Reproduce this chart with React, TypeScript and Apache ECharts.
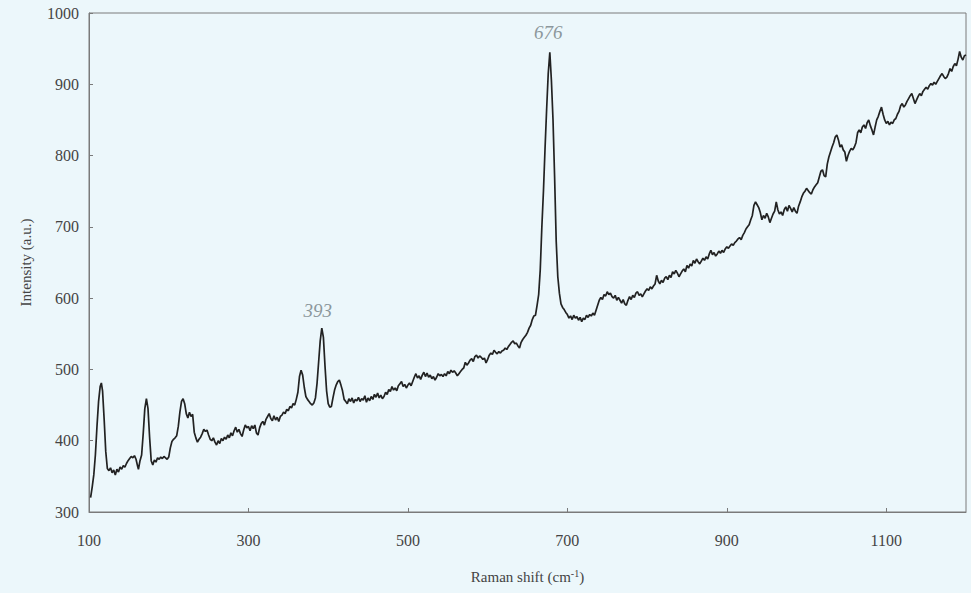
import React, { useEffect, useRef } from "react";
import * as echarts from "echarts";

// Raman spectrum: [Raman shift (cm-1), intensity (a.u.)]
const lowShiftRegion: [number, number][] = [
  [102, 320], [104, 335], [106, 352], [108, 380], [110, 420], [112, 455], [114, 476], [115.5, 481], [117, 470], [119, 430],
  [121, 385], [123, 361], [125, 358], [127, 362], [129, 355], [131, 359], [133, 352], [135, 360], [137, 356], [139, 363],
  [141, 360], [143, 365], [145, 363], [147, 368], [149, 372], [151, 375], [153, 378], [155, 376], [157, 379], [159, 374],
  [161, 364], [162, 360], [164, 372], [166, 380], [168, 410], [170, 445], [172, 459], [174, 445], [176, 405], [178, 372],
  [180, 366], [182, 373], [184, 370], [186, 376], [188, 374], [190, 377], [192, 375], [194, 378], [196, 376], [198, 374],
  [200, 377], [202, 390], [204, 399], [206, 402], [208, 404], [210, 407], [212, 420], [214, 440], [216, 455], [218, 459],
  [220, 452], [222, 438], [224, 432], [226, 440], [228, 434], [230, 437], [232, 412], [234, 404], [236, 398], [238, 402],
  [240, 405], [242, 410], [244, 416], [246, 413], [248, 415], [250, 408], [252, 402], [254, 400], [256, 404], [258, 398],
  [260, 394], [262, 400], [264, 396], [266, 403], [268, 400], [270, 405], [272, 402], [274, 408], [276, 404], [278, 411],
  [280, 407], [282, 414], [284, 419], [286, 412], [288, 416], [290, 410], [292, 406], [294, 415], [296, 422], [298, 418],
];

const midShiftRegion: [number, number][] = [
  [300, 420], [302, 414], [304, 421], [306, 417], [308, 422], [310, 411], [312, 408], [314, 418], [316, 424], [318, 427],
  [320, 422], [322, 430], [324, 434], [326, 438], [328, 431], [330, 428], [332, 435], [334, 429], [336, 433], [338, 427],
  [340, 434], [342, 436], [344, 440], [346, 438], [348, 444], [350, 442], [352, 448], [354, 446], [356, 452], [358, 450],
  [360, 458], [362, 468], [364, 490], [366, 499], [368, 492], [370, 475], [372, 462], [374, 458], [376, 455], [378, 452],
  [380, 450], [382, 453], [384, 460], [386, 480], [388, 510], [390, 540], [392, 558], [394, 545], [396, 505], [398, 470],
  [400, 452], [402, 447], [404, 448], [406, 460], [408, 471], [410, 478], [412, 483], [414, 485], [416, 478], [418, 470],
  [420, 458], [422, 455], [424, 452], [426, 459], [428, 455], [430, 460], [432, 453], [434, 458], [436, 456], [438, 461],
  [440, 455], [442, 459], [444, 457], [446, 463], [448, 454], [450, 460], [452, 456], [454, 462], [456, 458], [458, 465],
  [460, 461], [462, 467], [464, 460], [466, 464], [468, 459], [470, 462], [472, 468], [474, 465], [476, 472], [478, 469],
  [480, 476], [482, 471], [484, 474], [486, 470], [488, 477], [490, 480], [492, 483], [494, 476], [496, 479], [498, 474],
  [500, 478], [502, 481], [504, 477], [506, 483], [508, 489], [510, 494], [512, 488], [514, 491], [516, 486], [518, 492],
  [520, 496], [522, 490], [524, 495], [526, 489], [528, 492], [530, 487], [532, 490], [534, 485], [536, 489], [538, 494],
  [540, 491], [542, 493], [544, 490], [546, 494], [548, 491], [550, 497], [552, 494], [554, 499], [556, 496], [558, 498],
  [560, 495], [562, 491], [564, 494], [566, 497], [568, 500], [570, 502], [572, 510], [574, 506], [576, 509], [578, 513],
  [580, 515], [582, 511], [584, 518], [586, 520], [588, 516], [590, 519], [592, 517], [594, 514], [596, 516], [598, 509],
];

const peakRegion: [number, number][] = [
  [600, 514], [602, 520], [604, 523], [606, 521], [608, 527], [610, 524], [612, 522], [614, 525], [616, 523], [618, 526],
  [620, 527], [622, 530], [624, 528], [626, 532], [628, 535], [630, 538], [632, 540], [634, 536], [636, 537], [638, 533],
  [640, 530], [642, 538], [644, 542], [646, 545], [648, 548], [650, 552], [652, 558], [654, 562], [656, 570], [658, 575],
  [660, 576], [662, 590], [664, 605], [666, 640], [668, 700], [670, 750], [672, 810], [674, 865], [676, 915], [678, 945],
  [680, 905], [682, 850], [684, 770], [686, 680], [688, 630], [690, 607], [692, 592], [694, 587], [696, 584], [698, 580],
  [700, 577], [702, 572], [704, 575], [706, 570], [708, 576], [710, 572], [712, 574], [714, 569], [716, 573], [718, 567],
  [720, 572], [722, 570], [724, 576], [726, 573], [728, 577], [730, 575], [732, 579], [734, 576], [736, 583], [738, 590],
  [740, 597], [742, 601], [744, 598], [746, 605], [748, 603], [750, 609], [752, 605], [754, 607], [756, 602], [758, 600],
  [760, 604], [762, 597], [764, 601], [766, 597], [768, 593], [770, 598], [772, 592], [774, 590], [776, 597], [778, 602],
  [780, 598], [782, 604], [784, 601], [786, 607], [788, 609], [790, 604], [792, 606], [794, 602], [796, 606], [798, 610],
  [800, 613], [802, 611], [804, 616], [806, 613], [808, 617], [810, 620], [812, 632], [814, 624], [816, 620], [818, 625],
  [820, 622], [822, 628], [824, 630], [826, 626], [828, 632], [830, 629], [832, 637], [834, 634], [836, 639], [838, 635],
  [840, 630], [842, 634], [844, 638], [846, 641], [848, 637], [850, 646], [852, 642], [854, 648], [856, 645], [858, 653],
  [860, 649], [862, 655], [864, 651], [866, 648], [868, 652], [870, 656], [872, 653], [874, 658], [876, 655], [878, 662],
  [880, 667], [882, 661], [884, 664], [886, 659], [888, 662], [890, 666], [892, 663], [894, 667], [896, 664], [898, 669],
];

const highShiftRegion: [number, number][] = [
  [900, 672], [902, 670], [904, 673], [906, 676], [908, 674], [910, 678], [912, 680], [914, 683], [916, 685], [918, 682],
  [920, 688], [922, 692], [924, 697], [926, 700], [928, 703], [930, 710], [932, 716], [934, 730], [936, 735], [938, 731],
  [940, 727], [942, 720], [944, 710], [946, 716], [948, 712], [950, 719], [952, 714], [954, 706], [956, 712], [958, 718],
  [960, 722], [962, 735], [964, 724], [966, 718], [968, 721], [970, 716], [972, 724], [974, 728], [976, 722], [978, 730],
  [980, 726], [982, 721], [984, 727], [986, 722], [988, 719], [990, 729], [992, 735], [994, 742], [996, 747], [998, 750],
  [1000, 754], [1002, 751], [1004, 748], [1006, 746], [1008, 752], [1010, 756], [1012, 759], [1014, 762], [1016, 770], [1018, 778],
  [1020, 780], [1022, 772], [1024, 770], [1026, 788], [1028, 798], [1030, 805], [1032, 812], [1034, 818], [1036, 826], [1038, 829],
  [1040, 822], [1042, 812], [1044, 815], [1046, 808], [1048, 805], [1050, 792], [1052, 800], [1054, 806], [1056, 810], [1058, 808],
  [1060, 812], [1062, 818], [1064, 832], [1066, 836], [1068, 832], [1070, 840], [1072, 843], [1074, 838], [1076, 846], [1078, 850],
  [1080, 842], [1082, 836], [1084, 829], [1086, 840], [1088, 850], [1090, 855], [1092, 862], [1094, 868], [1096, 858], [1098, 850],
  [1100, 845], [1102, 848], [1104, 843], [1106, 847], [1108, 845], [1110, 850], [1112, 852], [1114, 858], [1116, 862], [1118, 870],
  [1120, 873], [1122, 868], [1124, 871], [1126, 876], [1128, 880], [1130, 884], [1132, 887], [1134, 880], [1136, 873], [1138, 878],
  [1140, 883], [1142, 887], [1144, 884], [1146, 890], [1148, 893], [1150, 896], [1152, 893], [1154, 898], [1156, 901], [1158, 899],
  [1160, 903], [1162, 900], [1164, 904], [1166, 908], [1168, 912], [1170, 915], [1172, 911], [1174, 908], [1176, 910], [1178, 915],
  [1180, 922], [1182, 918], [1184, 925], [1186, 929], [1188, 926], [1190, 935], [1192, 946], [1194, 938], [1196, 934], [1198, 940],
  [1200, 941],
];

// Handwritten peak annotations: [label, shift, intensity position]
const annotations: [string, number, number][] = [
  ["676", 676, 973],
  ["393", 387, 583],
];

const xTicks = { min: 100, max: 1200, interval: 200 };
const yTicks = { min: 300, max: 1000, interval: 100 };

const BG = "#ecf7fb";
const TEXT = "#444444";
const FONT = "'Liberation Serif', 'DejaVu Serif', serif";

export default function App() {
  const ref = useRef<HTMLDivElement>(null);

  useEffect(() => {
    document.body.style.margin = "0";
    document.body.style.background = BG;
    if (!ref.current) return;
    const chart = echarts.init(ref.current, undefined, { renderer: "svg" });
    const data = [...lowShiftRegion, ...midShiftRegion, ...peakRegion, ...highShiftRegion];
    chart.setOption({
      animation: false,
      backgroundColor: BG,
      textStyle: { fontFamily: FONT },
      grid: {
        left: 89,
        top: 13,
        right: 5,
        bottom: 81,
        show: true,
        borderColor: "#7a7a7a",
        borderWidth: 1,
        backgroundColor: "transparent",
      },
      xAxis: {
        type: "value",
        min: xTicks.min,
        max: xTicks.max,
        interval: xTicks.interval,
        name: "Raman shift (cm{sup|-1})",
        nameLocation: "middle",
        nameGap: 56,
        nameTextStyle: {
          color: TEXT,
          fontSize: 15,
          fontFamily: FONT,
          rich: { sup: { fontSize: 10, verticalAlign: "top", padding: [0, 0, 8, 0], color: TEXT, fontFamily: FONT } },
        },
        axisLine: { show: true, lineStyle: { color: "#7a7a7a", width: 1 } },
        axisTick: { show: true, inside: true, length: 4, lineStyle: { color: "#7a7a7a" } },
        axisLabel: {
          color: TEXT,
          fontSize: 16,
          fontFamily: FONT,
          margin: 20,
          showMaxLabel: false,
          formatter: (v: number) => (v === xTicks.max ? "" : String(v)),
        },
        splitLine: { show: false },
      },
      yAxis: {
        type: "value",
        min: yTicks.min,
        max: yTicks.max,
        interval: yTicks.interval,
        name: "Intensity (a.u.)",
        nameLocation: "middle",
        nameGap: 56,
        nameTextStyle: { color: TEXT, fontSize: 15, fontFamily: FONT },
        axisLine: { show: true, lineStyle: { color: "#7a7a7a", width: 1 } },
        axisTick: { show: true, inside: true, length: 4, lineStyle: { color: "#7a7a7a" } },
        axisLabel: {
          color: TEXT,
          fontSize: 16,
          fontFamily: FONT,
          margin: 10,
          formatter: (v: number) => String(v),
        },
        splitLine: { show: false },
      },
      series: [
        {
          type: "line",
          data,
          showSymbol: false,
          symbol: "none",
          lineStyle: { color: "#222222", width: 1.7 },
          markPoint: {
            symbol: "circle",
            symbolSize: 1,
            itemStyle: { color: "transparent" },
            label: {
              show: true,
              position: "inside",
              formatter: (p: any) => p.name,
              color: "#8c979c",
              fontSize: 19,
              fontStyle: "italic",
              fontWeight: "lighter",
              fontFamily: FONT,
            },
            data: annotations.map(([label, x, y]) => ({ name: label, coord: [x, y] })),
          },
        },
      ],
    });
    return () => chart.dispose();
  }, []);

  return <div ref={ref} style={{ width: 971, height: 593, background: BG }} />;
}
